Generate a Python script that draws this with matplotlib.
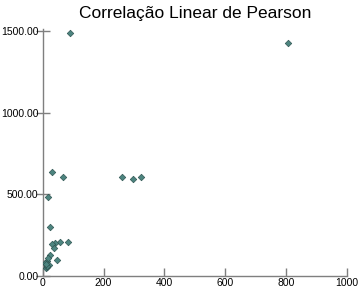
import matplotlib
matplotlib.use("Agg")
import matplotlib.pyplot as plt
from matplotlib.ticker import FuncFormatter

x_vals = [90, 807, 260, 297, 323, 31, 67, 16, 24, 82, 57, 40, 29, 37, 24, 48, 13, 18, 7, 10, 13, 21, 15, 10]
y_vals = [1490, 1430, 604, 594, 604, 637, 604, 485, 301, 205, 205, 199, 192, 172, 127, 96, 90, 106, 75, 44, 54, 65, 60, 69]
x_ticks = [0, 200, 400, 600, 800, 1000]
y_ticks = [0, 500, 1000, 1500]
title = "Correlação Linear de Pearson"

plt.rcParams['font.family'] = ['Liberation Sans', 'DejaVu Sans']
fig = plt.figure(figsize=(3.59, 2.92), dpi=100)
ax = fig.add_axes([0.119, 0.0565, 0.848, 0.844])
ax.scatter(x_vals, y_vals, marker='D', s=11, color='#4d8580', edgecolors='#2f5552', linewidths=0.5, zorder=3)
ax.set_xlim(0, 1000)
ax.set_ylim(0, 1515)
ax.set_xticks(x_ticks)
ax.set_yticks(y_ticks)
ax.yaxis.set_major_formatter(FuncFormatter(lambda v, p: f"{v:.2f}"))
for s in ['top', 'right']:
    ax.spines[s].set_visible(False)
for s in ['left', 'bottom']:
    ax.spines[s].set_color('#7f7f7f')
    ax.spines[s].set_linewidth(1.0)
ax.tick_params(axis='x', direction='in', length=6, width=1, color='#7f7f7f', labelsize=7.5, pad=2)
ax.tick_params(axis='y', direction='inout', length=10, width=1, color='#7f7f7f', labelsize=7.5, pad=-2)
ax.set_title(title, fontsize=12.5, pad=8)
fig.savefig("out.png", dpi=100)
